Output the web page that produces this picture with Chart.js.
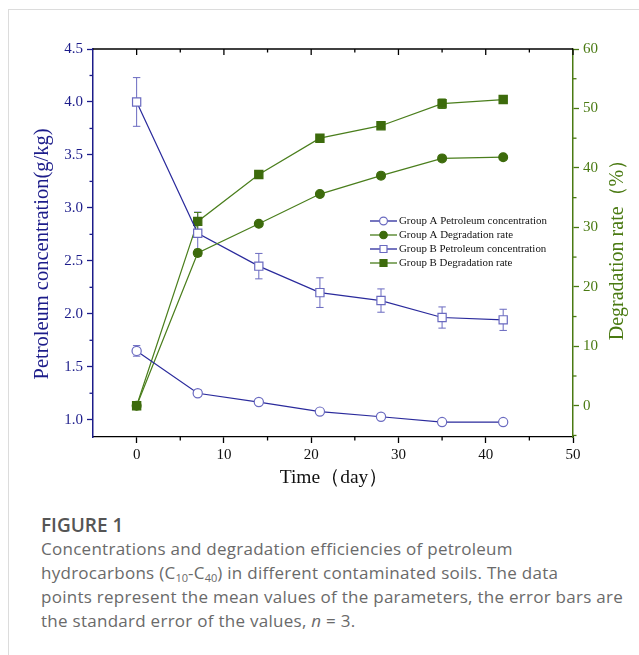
<!DOCTYPE html>
<html>
<head>
<meta charset="utf-8">
<script src="https://cdn.jsdelivr.net/npm/chart.js@4.4.1/dist/chart.umd.min.js"></script>
<style>
html,body{margin:0;padding:0;background:#fff;}
body{width:639px;height:655px;position:relative;overflow:hidden;}
#frame{position:absolute;left:8px;top:9px;width:640px;height:660px;border-left:1.5px solid #dcdcdc;border-top:1.5px solid #dcdcdc;}
#wrap{position:absolute;left:0;top:0;width:639px;height:490px;}
#cap{position:absolute;left:41px;top:513px;width:598px;white-space:nowrap;font-family:"Open Sans",Lato,sans-serif;color:#6a6a6a;font-size:17px;letter-spacing:0.27px;line-height:24px;}
#cap .fig{font-weight:600;color:#555;font-size:19px;letter-spacing:0;margin-bottom:0px;}
#cap sub{font-size:11px;line-height:0;vertical-align:-3px;letter-spacing:0;}
</style>
</head>
<body>
<div id="frame"></div>
<div id="wrap"><canvas id="c" width="639" height="490"></canvas></div>
<div id="cap">
<div class="fig">FIGURE 1</div>
<div>Concentrations and degradation efficiencies of petroleum<br>hydrocarbons (C<sub>10</sub>-C<sub>40</sub>) in different contaminated soils. The data<br>points represent the mean values of the parameters, the error bars are<br>the standard error of the values, <i>n</i> = 3.</div>
</div>
<script>
// ---- data ----
const days = [0, 7, 14, 21, 28, 35, 42];
const concA = [1.65, 1.25, 1.167, 1.077, 1.028, 0.978, 0.978];
const concAErr = [0.05, 0.03, 0.015, 0.02, 0.015, 0.01, 0.01];
const concB = [4.00, 2.76, 2.45, 2.20, 2.125, 1.965, 1.943];
const concBErr = [0.23, 0.20, 0.12, 0.14, 0.11, 0.10, 0.10];
const degA = [0, 25.7, 30.6, 35.6, 38.7, 41.6, 41.8];
const degAErr = [0, 0.6, 0.4, 0.4, 0.4, 0.4, 0.3];
const degB = [0, 31.0, 38.9, 45.0, 47.1, 50.8, 51.5];
const degBErr = [0, 1.5, 0.5, 0.5, 0.5, 0.8, 0.4];
const seriesLabels = ['Group A Petroleum concentration', 'Group A Degradation rate', 'Group B Petroleum concentration', 'Group B Degradation rate'];
const xTicks = [0, 10, 20, 30, 40, 50];
const xMinor = [5, 15, 25, 35, 45];
const yLTicks = [1.0, 1.5, 2.0, 2.5, 3.0, 3.5, 4.0, 4.5];
const yLMinor = [1.25, 1.75, 2.25, 2.75, 3.25, 3.75, 4.25];
const yRTicks = [0, 10, 20, 30, 40, 50, 60];
const yRMinor = [-5, 5, 15, 25, 35, 45, 55];
const xTitle = 'Time（day）';
const yLTitle = 'Petroleum concentration(g/kg)';
const yRTitle = 'Degradation rate（%）';

const BLUE = '#2a2a9c', BLUE_M = '#6a6ac0', BLUE_AX = '#1c1c8a';
const GREEN = '#4a7e1c', GREEN_M = '#3d6b0c', GREEN_AX = '#4a7a12';
const MAJ = 6, MIN = 3.5;
const SERIF = "'Liberation Serif','Times New Roman',serif";

const pts = (ys) => days.map((d, i) => ({x: d, y: ys[i]}));

Chart.defaults.font.family = SERIF;

const errPlugin = {
  id: 'errBars',
  beforeDatasetsDraw(chart) {
    const ctx = chart.ctx;
    ctx.save();
    chart.data.datasets.forEach((ds) => {
      if (!ds.errs) return;
      const xs = chart.scales.x, ys = chart.scales[ds.yAxisID];
      ctx.strokeStyle = ds.errColor;
      ctx.lineWidth = 1;
      ds.data.forEach((p, i) => {
        const e = ds.errs[i];
        if (!e) return;
        const px = xs.getPixelForValue(p.x);
        const top = ys.getPixelForValue(p.y + e), bot = ys.getPixelForValue(p.y - e);
        ctx.beginPath();
        ctx.moveTo(px, top); ctx.lineTo(px, bot);
        ctx.moveTo(px - 3.7, top); ctx.lineTo(px + 3.7, top);
        ctx.moveTo(px - 3.7, bot); ctx.lineTo(px + 3.7, bot);
        ctx.stroke();
      });
    });
    ctx.restore();
  }
};

const framePlugin = {
  id: 'frameTicks',
  afterDraw(chart) {
    const {ctx, chartArea: a, scales} = chart;
    const line = (x1, y1, x2, y2) => { ctx.beginPath(); ctx.moveTo(x1, y1); ctx.lineTo(x2, y2); ctx.stroke(); };
    ctx.save();
    ctx.lineWidth = 1.3;
    ctx.strokeStyle = '#000';
    line(a.left, a.top, a.right, a.top);
    xTicks.forEach(v => { const p = scales.x.getPixelForValue(v); line(p, a.top, p, a.top + MAJ); });
    xMinor.forEach(v => { const p = scales.x.getPixelForValue(v); line(p, a.top, p, a.top + MIN); line(p, a.bottom, p, a.bottom + MIN); });
    ctx.strokeStyle = BLUE_AX;
    yLMinor.forEach(v => { const p = scales.yL.getPixelForValue(v); line(a.left, p, a.left - MIN, p); });
    ctx.strokeStyle = GREEN_AX;
    yRMinor.forEach(v => { const p = scales.yR.getPixelForValue(v); line(a.right, p, a.right + MIN, p); });
    // axis titles
    const mid = (a.top + a.bottom) / 2;
    ctx.textAlign = 'center';
    ctx.textBaseline = 'middle';
    ctx.fillStyle = '#111';
    ctx.font = "19.5px " + SERIF;
    ctx.fillText(xTitle, (a.left + a.right) / 2 + 1, 478);
    ctx.save();
    ctx.translate(43, mid + 11);
    ctx.rotate(-Math.PI / 2);
    ctx.fillStyle = BLUE_AX;
    ctx.font = "20.5px " + SERIF;
    ctx.fillText(yLTitle, 0, 0);
    ctx.restore();
    ctx.save();
    ctx.translate(618, mid + 2);
    ctx.rotate(-Math.PI / 2);
    ctx.fillStyle = GREEN_AX;
    ctx.font = "20px " + SERIF;
    ctx.fillText(yRTitle, 0, 0);
    ctx.restore();
    ctx.restore();
  }
};

const legendPlugin = {
  id: 'customLegend',
  afterDatasetsDraw(chart) {
    const ctx = chart.ctx;
    ctx.save();
    const x0 = 370, x1 = 397, xm = 383.5;
    const rows = [221, 235, 249, 263];
    chart.data.datasets.forEach((ds, i) => {
      const y = rows[i];
      ctx.strokeStyle = ds.borderColor; ctx.lineWidth = 1.3;
      ctx.beginPath(); ctx.moveTo(x0, y); ctx.lineTo(x1, y); ctx.stroke();
      ctx.fillStyle = ds.pointBackgroundColor; ctx.strokeStyle = ds.pointBorderColor; ctx.lineWidth = 1.2;
      Chart.helpers.drawPoint(ctx, {pointStyle: ds.pointStyle, radius: ds.pointRadius * 0.85, borderWidth: 1.2}, xm, y);
      ctx.fillStyle = '#111';
      ctx.font = "10.9px " + SERIF;
      ctx.textBaseline = 'middle';
      ctx.textAlign = 'left';
      ctx.fillText(ds.label, 399, y + 0.5);
    });
    ctx.restore();
  }
};

const common = {showLine: true, borderWidth: 1.2, pointBorderWidth: 1.2, pointHoverRadius: 5};

new Chart(document.getElementById('c'), {
  type: 'scatter',
  data: {
    datasets: [
      Object.assign({}, common, {label: seriesLabels[0], data: pts(concA), yAxisID: 'yL', errs: concAErr, errColor: BLUE_M,
        borderColor: BLUE, pointStyle: 'circle', pointRadius: 4.6, pointBackgroundColor: '#fff', pointBorderColor: BLUE_M}),
      Object.assign({}, common, {label: seriesLabels[1], data: pts(degA), yAxisID: 'yR', errs: degAErr, errColor: GREEN,
        borderColor: GREEN, pointStyle: 'circle', pointRadius: 4.4, pointBackgroundColor: GREEN_M, pointBorderColor: GREEN_M}),
      Object.assign({}, common, {label: seriesLabels[2], data: pts(concB), yAxisID: 'yL', errs: concBErr, errColor: BLUE_M,
        borderColor: BLUE, pointStyle: 'rect', pointRadius: 5.8, pointBackgroundColor: '#fff', pointBorderColor: BLUE_M}),
      Object.assign({}, common, {label: seriesLabels[3], data: pts(degB), yAxisID: 'yR', errs: degBErr, errColor: GREEN,
        borderColor: GREEN, pointStyle: 'rect', pointRadius: 5.8, pointBackgroundColor: GREEN_M, pointBorderColor: GREEN_M})
    ]
  },
  options: {
    responsive: false,
    animation: false,
    layout: {padding: {left: 0, right: 0, top: 49, bottom: 0}},
    plugins: {legend: {display: false}, tooltip: {enabled: false}},
    scales: {
      x: {
        type: 'linear', position: 'bottom', min: -5, max: 50,
        afterBuildTicks: (s) => { s.ticks = xTicks.map(v => ({value: v})); },
        afterFit: (s) => { s.height = 53; },
        grid: {drawOnChartArea: false, drawTicks: true, tickLength: MAJ, tickColor: '#000', tickWidth: 1.3},
        border: {color: '#000', width: 1.3},
        ticks: {color: '#111', font: {size: 15}, padding: 3, maxRotation: 0, callback: (v) => String(v)},
        title: {display: false}
      },
      yL: {
        type: 'linear', position: 'left', min: 0.837, max: 4.5,
        afterBuildTicks: (s) => { s.ticks = yLTicks.map(v => ({value: v})); },
        afterFit: (s) => { s.width = 93; },
        grid: {drawOnChartArea: false, drawTicks: true, tickLength: MAJ, tickColor: BLUE_AX, tickWidth: 1.3},
        border: {color: BLUE_AX, width: 1.5},
        ticks: {color: BLUE_AX, font: {size: 15}, padding: 4, callback: (v) => Number(v).toFixed(1)},
        title: {display: false}
      },
      yR: {
        type: 'linear', position: 'right', min: -5.26, max: 60,
        afterBuildTicks: (s) => { s.ticks = yRTicks.map(v => ({value: v})); },
        afterFit: (s) => { s.width = 66; },
        grid: {drawOnChartArea: false, drawTicks: true, tickLength: MAJ, tickColor: GREEN_AX, tickWidth: 1.3},
        border: {color: GREEN_AX, width: 1.5},
        ticks: {color: GREEN_AX, font: {size: 15}, padding: 4, callback: (v) => String(v)},
        title: {display: false}
      }
    }
  },
  plugins: [errPlugin, framePlugin, legendPlugin]
});
</script>
</body>
</html>
